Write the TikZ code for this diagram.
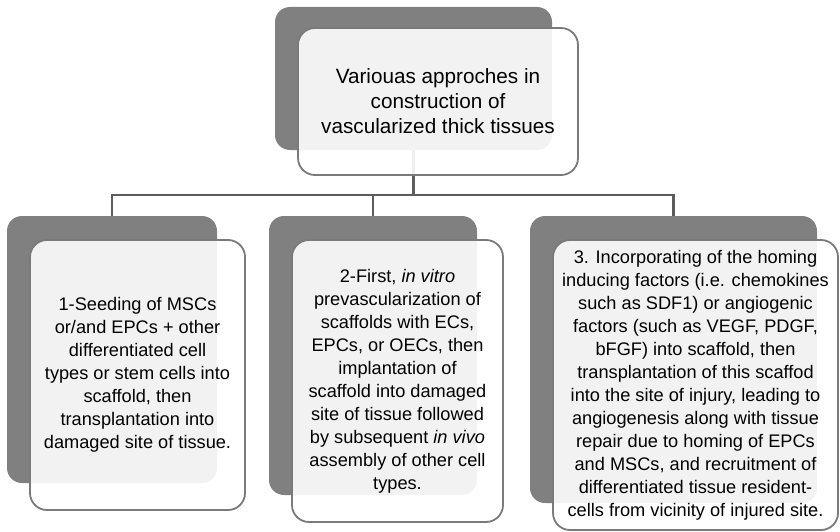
\documentclass[tikz,border=0pt]{standalone}
\usepackage{fontspec}
\setmainfont{Liberation Sans}
\definecolor{darkbox}{HTML}{808080}
\definecolor{boxline}{HTML}{7A7A7A}
\definecolor{conn}{HTML}{5C5C5C}
\begin{document}
\begin{tikzpicture}[x=1pt,y=-1pt,
  back/.style={rectangle,rounded corners=15pt,fill=darkbox,inner sep=0pt},
  front/.style={rectangle,rounded corners=17pt,fill=white,fill opacity=0.9,text opacity=1,draw=boxline,line width=1.8pt,inner sep=0pt,align=center,text=black},
  topfont/.style={font=\fontsize{20.7}{25}\selectfont},
  subfont/.style={font=\fontsize{18.2}{23}\selectfont},
  link/.style={draw=conn,line width=2.4pt}]
\useasboundingbox[fill=white] (0,0) rectangle (840,532);
% back boxes positions
\coordinate (bus) at (413.5,195);
\node[back,minimum width=277pt,minimum height=143pt] (topdark) at (413.5,78.5) {};
\node[back,minimum width=210pt,minimum height=267pt] (d1) at (112,349.5) {};
\node[back,minimum width=208pt,minimum height=279pt] (d2) at (373,355.5) {};
\node[back,minimum width=287pt,minimum height=287pt] (d3) at (673.5,359.5) {};
% connectors
\begin{scope}[on background layer/.style={}]
\draw[link] (topdark.south) -- (bus);
\draw[link] (d1.north) |- (bus);
\draw[link] (d2.north) |- (bus);
\draw[link] (d3.north) |- (bus);
\end{scope}
% front boxes
\node[front,topfont,minimum width=280pt,minimum height=147pt] (topbox) at (438,101.5)
  {Variouas approches in\\construction of\\vascularized thick tissues};
\node[front,subfont,minimum width=215pt,minimum height=270pt] (b1) at (137.5,375)
  {1-Seeding of MSCs\\or/and EPCs + other\\differentiated cell\\types or stem cells into\\scaffold, then\\transplantation into\\damaged site of tissue.};
\node[front,subfont,minimum width=211pt,minimum height=282pt] (b2) at (397.5,381)
  {2-First, \textit{in vitro}\\prevascularization of\\scaffolds with ECs,\\EPCs, or OECs, then\\implantation of\\scaffold into damaged\\site of tissue followed\\by subsequent \textit{in vivo}\\assembly of other cell\\types.};
\node[front,subfont,minimum width=285pt,minimum height=290pt] (b3) at (695.5,385)
  {3. Incorporating of the homing\\inducing factors (i.e. chemokines\\such as SDF1) or angiogenic\\factors (such as VEGF, PDGF,\\bFGF) into scaffold, then\\transplantation of this scaffod\\into the site of injury, leading to\\angiogenesis along with tissue\\repair due to homing of EPCs\\and MSCs, and recruitment of\\differentiated tissue resident-\\cells from vicinity of injured site.};
\end{tikzpicture}
\end{document}
